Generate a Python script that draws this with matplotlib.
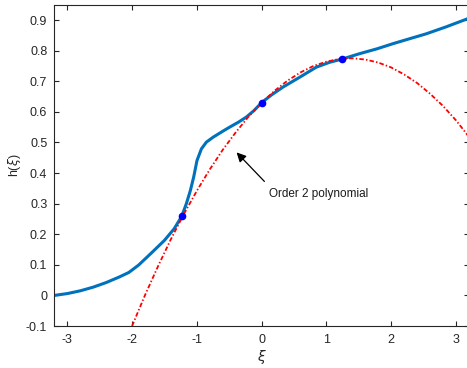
import numpy as np
import matplotlib
matplotlib.use('Agg')
import matplotlib.pyplot as plt

# blue curve h(xi)
xi = [-3.2, -3.0, -2.8, -2.6, -2.4, -2.2, -2.05, -1.9, -1.7, -1.5, -1.35,
      -1.235, -1.162, -1.10, -1.049, -0.998, -0.93, -0.853, -0.75, -0.597,
      -0.494, -0.36, -0.236, -0.12, 0.0, 0.15, 0.33, 0.586, 0.844, 1.05,
      1.235, 1.51, 1.78, 2.03, 2.3, 2.54, 2.85, 3.2]
h = [0.0, 0.006, 0.015, 0.027, 0.042, 0.060, 0.075, 0.099, 0.139, 0.180,
     0.218, 0.258, 0.300, 0.343, 0.387, 0.441, 0.479, 0.501, 0.517, 0.537,
     0.550, 0.566, 0.583, 0.604, 0.630, 0.655, 0.681, 0.713, 0.746, 0.762,
     0.772, 0.790, 0.806, 0.823, 0.840, 0.855, 0.878, 0.906]

# red dash-dot curve (order 2 polynomial)
xi_poly = [-2.0, -1.8, -1.6, -1.4, -1.2, -1.0, -0.8, -0.6, -0.4, -0.2, 0.0,
           0.2, 0.4, 0.6, 0.8, 1.0, 1.2, 1.4, 1.6, 1.8, 2.0, 2.2, 2.4, 2.6,
           2.8, 3.0, 3.2]
h_poly = [-0.100, 0.001, 0.095, 0.184, 0.266, 0.342, 0.412, 0.476, 0.533,
          0.585, 0.630, 0.669, 0.702, 0.729, 0.750, 0.764, 0.773, 0.775,
          0.771, 0.761, 0.745, 0.722, 0.694, 0.659, 0.619, 0.572, 0.518]

# interpolation nodes
xi_nodes = [-1.235, 0.0, 1.235]
h_nodes = [0.258, 0.630, 0.772]

plt.rcParams['font.family'] = ['Liberation Sans', 'DejaVu Sans']
plt.rcParams['axes.unicode_minus'] = False

fig = plt.figure(figsize=(4.67, 3.68), dpi=100)
ax = fig.add_axes([0.1163, 0.1141, 0.888, 0.873])

ax.plot(xi, h, color='#0072BD', lw=2.2, zorder=2, solid_joinstyle='round')
ax.plot(xi_poly, h_poly, color='red', lw=1.3,
        linestyle=(0, (2.5, 1.2, 0.8, 1.2)), zorder=3)
ax.plot(xi_nodes, h_nodes, 'o', color='blue', ms=4.5, mec='blue', zorder=4)

ax.annotate('', xy=(-0.417, 0.474), xytext=(0.072, 0.366),
            arrowprops=dict(arrowstyle='-|>', color='black', lw=0.9,
                            mutation_scale=14))
ax.text(0.113, 0.332, 'Order 2 polynomial', fontsize=8.5, color='#1a1a1a',
        va='center', ha='left')

ax.set_xlim(-3.2, 3.2)
ax.set_ylim(-0.1, 0.95)
ax.set_xticks([-3, -2, -1, 0, 1, 2, 3])
ax.set_yticks(np.round(np.arange(-0.1, 0.91, 0.1), 1))
ax.set_yticklabels(['-0.1', '0', '0.1', '0.2', '0.3', '0.4', '0.5', '0.6',
                    '0.7', '0.8', '0.9'])
ax.tick_params(direction='in', length=3.5, width=0.8, top=True, right=True,
               labelsize=9, colors='#262626')
ax.tick_params(axis='x', pad=6)
ax.tick_params(axis='y', pad=5)
for s in ax.spines.values():
    s.set_color('#262626')
    s.set_linewidth(0.8)

ax.set_xlabel(r'$\xi$', fontsize=10, color='#262626', labelpad=1)
ax.set_ylabel(r'h($\xi$)', fontsize=9, color='#262626', labelpad=2)

fig.savefig('out.png', dpi=100)
